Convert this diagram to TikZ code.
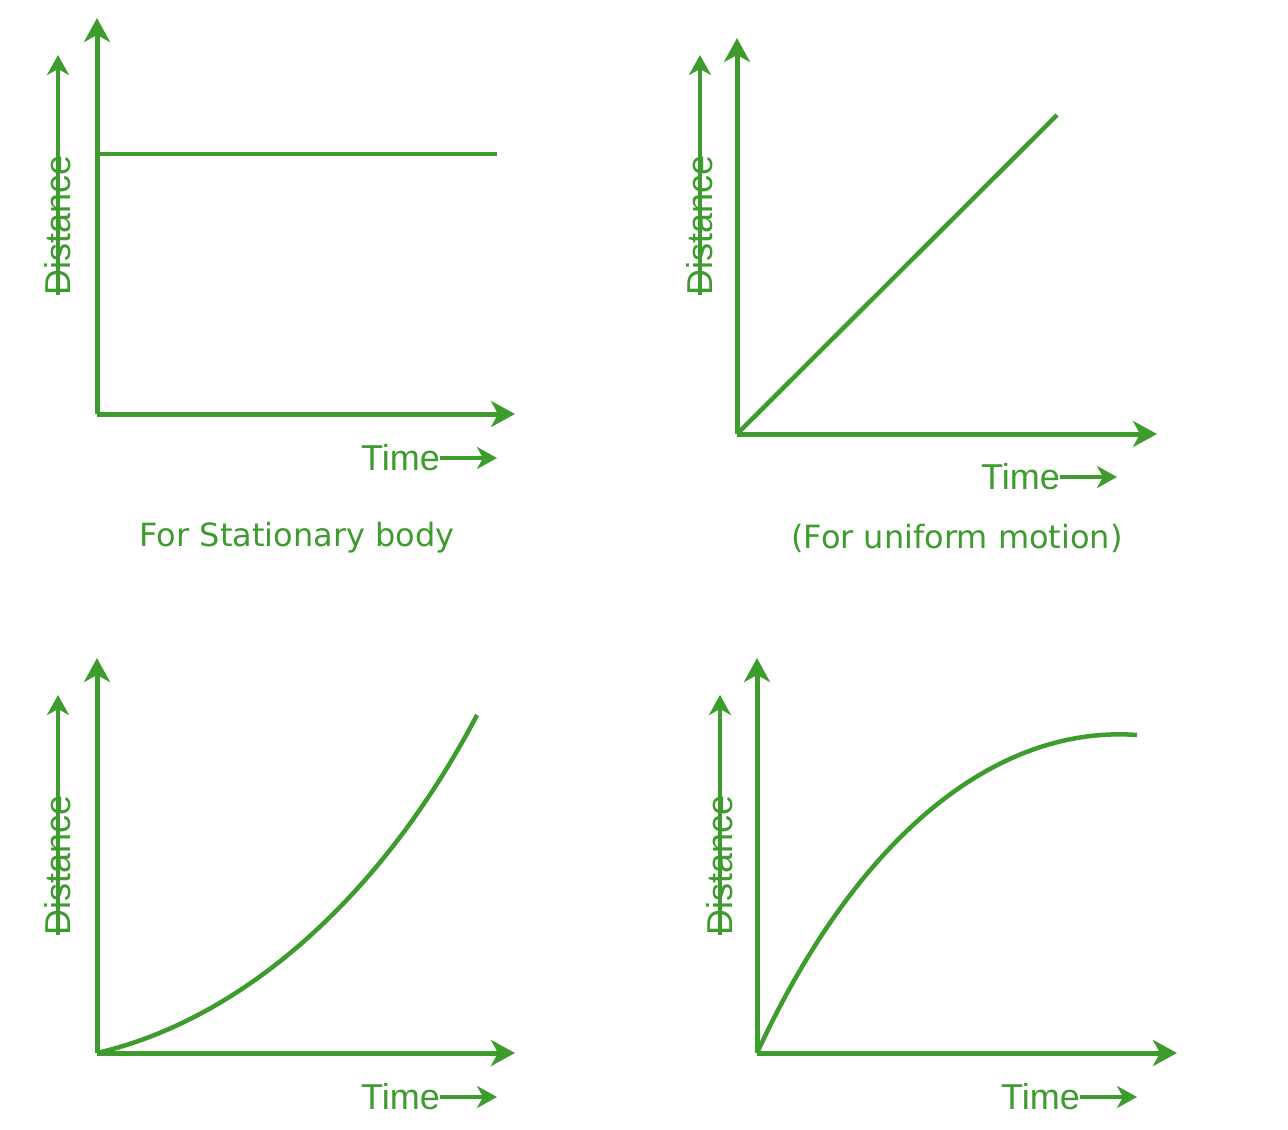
\documentclass[tikz,border=0pt]{standalone}
\usepackage{fontspec}
\setmainfont{Liberation Sans}
\newfontfamily\capfont{DejaVu Sans}
\usetikzlibrary{arrows.meta}
\definecolor{gg}{HTML}{3E9B2E}
\begin{document}
\begin{tikzpicture}[x=1pt,y=-1pt,
  ax/.style={gg,line width=5pt,-{Stealth[length=24pt,width=26pt,inset=7pt]}},
  sm/.style={gg,line width=4.5pt,-{Stealth[length=20pt,width=22pt,inset=6pt]}},
  crv/.style={gg,line width=4.5pt},
  lbl/.style={text=gg,font=\fontsize{36}{36}\selectfont,inner sep=0pt},
  captext/.style={text=gg,font=\capfont\fontsize{32}{32}\selectfont,inner sep=0pt}]
\useasboundingbox (0,0) rectangle (1288,1130);
% graph 1
\coordinate (o1) at (97,414); \coordinate (y1) at (97,18); \coordinate (x1) at (515,414);
\draw[ax] (o1) -- (y1); \draw[ax] (o1) -- (x1);
\coordinate (h1a) at (97,154); \coordinate (h1b) at (497,154);
\draw[crv] (h1a) -- (h1b);
\node[lbl,rotate=90,anchor=east] (d1) at (58,155) {Distance};
\coordinate (d1t) at (58,55); \draw[sm] (d1.west) -- (d1t);
\node[lbl,anchor=east] (t1) at (440,458) {Time};
\coordinate (t1t) at (497,458); \draw[sm] (t1.east) -- (t1t);
\node[captext] (c1) at (297,538) {For Stationary body};
% graph 2
\coordinate (o2) at (737,434); \coordinate (y2) at (737,38); \coordinate (x2) at (1157,434);
\draw[ax] (o2) -- (y2); \draw[ax] (o2) -- (x2);
\coordinate (l2) at (1057,115); \draw[crv] (o2) -- (l2);
\node[lbl,rotate=90,anchor=east] (d2) at (700,155) {Distance};
\coordinate (d2t) at (700,55); \draw[sm] (d2.west) -- (d2t);
\node[lbl,anchor=east] (t2) at (1060,477) {Time};
\coordinate (t2t) at (1117,477); \draw[sm] (t2.east) -- (t2t);
\node[captext] (c2) at (957,538) {(For uniform motion)};
% graph 3
\coordinate (o3) at (97,1053); \coordinate (y3) at (97,658); \coordinate (x3) at (515,1053);
\draw[ax] (o3) -- (y3); \draw[ax] (o3) -- (x3);
\coordinate (e3) at (477,715);
\draw[crv] (o3) .. controls (240,1020) and (380,900) .. (e3);
\node[lbl,rotate=90,anchor=east] (d3) at (58,795) {Distance};
\coordinate (d3t) at (58,695); \draw[sm] (d3.west) -- (d3t);
\node[lbl,anchor=east] (t3) at (440,1097) {Time};
\coordinate (t3t) at (497,1097); \draw[sm] (t3.east) -- (t3t);
% graph 4
\coordinate (o4) at (757,1053); \coordinate (y4) at (757,658); \coordinate (x4) at (1177,1053);
\draw[ax] (o4) -- (y4); \draw[ax] (o4) -- (x4);
\coordinate (e4) at (1137,735);
\draw[crv] (o4) .. controls (860,830) and (1000,725) .. (e4);
\node[lbl,rotate=90,anchor=east] (d4) at (720,795) {Distance};
\coordinate (d4t) at (720,695); \draw[sm] (d4.west) -- (d4t);
\node[lbl,anchor=east] (t4) at (1080,1097) {Time};
\coordinate (t4t) at (1137,1097); \draw[sm] (t4.east) -- (t4t);
\end{tikzpicture}
\end{document}
